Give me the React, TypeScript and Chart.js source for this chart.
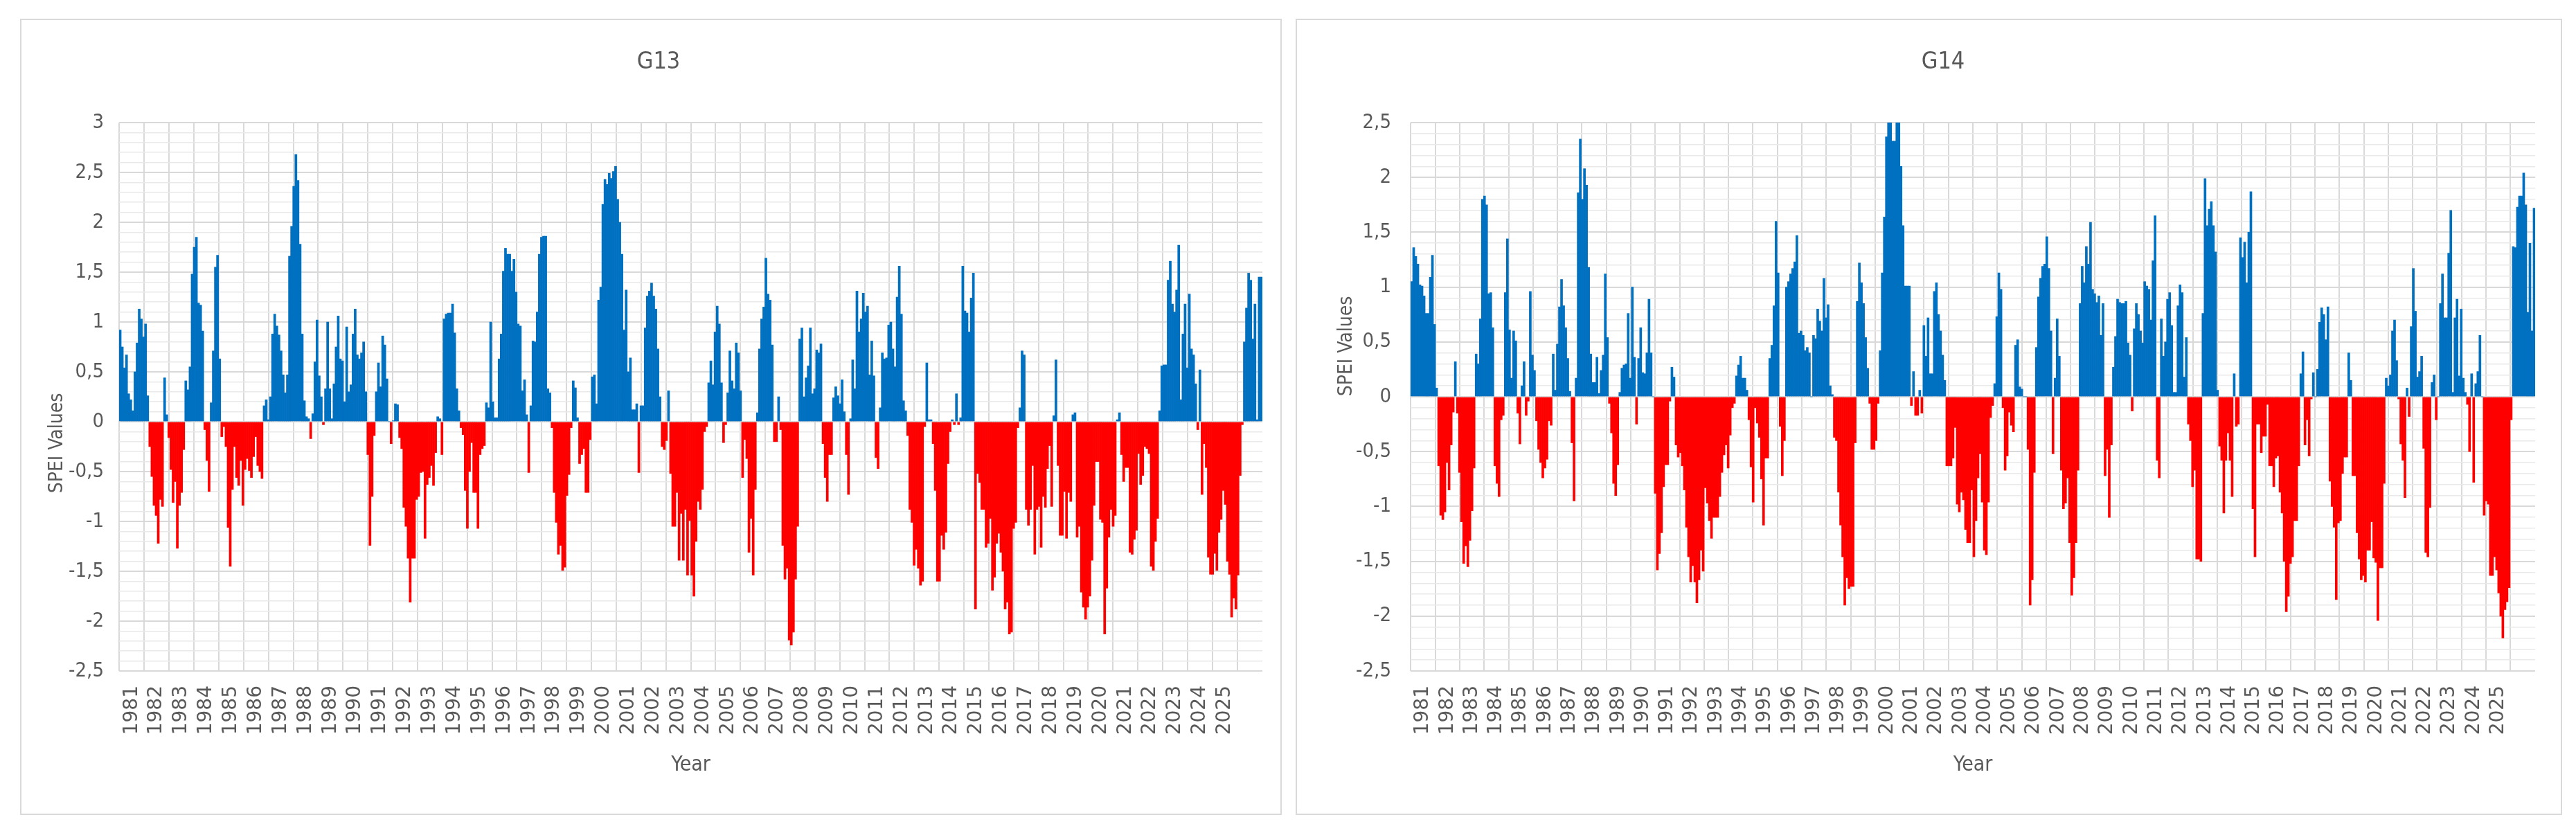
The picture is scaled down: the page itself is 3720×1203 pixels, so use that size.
import React, { useEffect, useRef } from 'react';
import { Chart, registerables } from 'chart.js';

Chart.register(...registerables);

// ---- categories -------------------------------------------------------------
const FIRST_YEAR = 1981;
const LAST_YEAR = 2025;
const MONTH_NAMES = ['Jan', 'Feb', 'Mar', 'Apr', 'May', 'Jun', 'Jul', 'Aug', 'Sep', 'Oct', 'Nov', 'Dec'];
const YEARS: number[] = [];
for (let y = FIRST_YEAR; y <= LAST_YEAR; y++) YEARS.push(y);
const MONTH_LABELS: string[] = YEARS.flatMap((y) => MONTH_NAMES.map((m) => `${m} ${y}`));

// ---- monthly SPEI series (one row per year, Jan..Dec) ------------------------
const G13_SPEI: number[] = [
  0.92, 0.75, 0.54, 0.67, 0.28, 0.22, 0.11, 0.50, 0.79, 1.13, 1.03, 0.85, // 1981
  0.98, 0.26, -0.25, -0.55, -0.84, -0.94, -1.22, -0.78, -0.85, 0.44, 0.07, -0.16, // 1982
  -0.48, -0.81, -0.60, -1.27, -0.84, -0.71, -0.28, 0.41, 0.32, 0.55, 1.48, 1.75, // 1983
  1.85, 1.19, 1.17, 0.91, -0.08, -0.39, -0.70, 0.19, 0.71, 1.55, 1.67, 0.63, // 1984
  -0.15, -0.05, -0.25, -1.06, -1.45, -0.68, -0.25, -0.56, -0.64, -0.39, -0.84, -0.48, // 1985
  -0.37, -0.49, -0.56, -0.35, -0.15, -0.44, -0.50, -0.57, 0.16, 0.22, 0.02, 0.25, // 1986
  0.88, 1.08, 0.96, 0.87, 0.71, 0.47, 0.29, 0.47, 1.66, 1.96, 2.36, 2.68, // 1987
  2.42, 1.78, 0.88, 0.21, 0.05, 0.03, -0.17, 0.08, 0.60, 1.02, 0.46, 0.25, // 1988
  -0.03, 0.33, 1.00, 0.33, 0.03, 0.38, 0.75, 1.06, 0.63, 0.61, 0.20, 0.95, // 1989
  0.30, 0.37, 0.88, 1.13, 0.67, 0.63, 0.69, 0.80, 0.30, -0.33, -1.24, -0.75, // 1990
  -0.14, 0.30, 0.59, 0.35, 0.86, 0.77, 0.43, 0.00, -0.22, 0.01, 0.18, 0.17, // 1991
  -0.16, -0.27, -0.86, -1.05, -1.37, -1.81, -1.37, -1.37, -0.78, -0.75, -0.51, -0.50, // 1992
  -1.17, -0.63, -0.56, -0.44, -0.64, -0.31, 0.05, 0.03, -0.33, 1.03, 1.08, 1.09, // 1993
  1.09, 1.18, 0.89, 0.33, 0.11, -0.06, -0.13, -0.69, -1.07, -0.50, -0.21, -0.71, // 1994
  -0.71, -1.07, -0.33, -0.27, -0.24, 0.19, 0.14, 1.00, 0.20, 0.04, 0.04, 0.63, // 1995
  0.88, 1.51, 1.74, 1.68, 1.68, 1.51, 1.63, 1.30, 0.98, 0.96, 0.31, 0.42, // 1996
  0.07, -0.51, 0.16, 0.81, 0.80, 1.10, 1.68, 1.85, 1.86, 1.86, 0.33, 0.29, // 1997
  -0.06, -0.71, -1.01, -1.33, -1.24, -1.49, -1.46, -0.74, -0.53, -0.06, 0.41, 0.34, // 1998
  0.04, -0.42, -0.33, -0.27, -0.71, -0.71, -0.18, 0.45, 0.47, 0.18, 1.22, 1.35, // 1999
  2.18, 2.43, 2.38, 2.49, 2.44, 2.51, 2.56, 2.23, 2.00, 1.68, 0.92, 1.32, // 2000
  0.50, 0.64, 0.12, 0.12, 0.18, -0.51, 0.16, 0.16, 0.94, 1.26, 1.31, 1.39, // 2001
  1.26, 1.13, 0.73, 0.25, -0.25, -0.28, -0.19, 0.31, -0.52, -1.05, -1.05, -0.71, // 2002
  -1.39, -0.92, -1.39, -0.88, -1.54, -0.99, -1.54, -1.75, -1.20, -0.80, -0.88, -0.68, // 2003
  -0.10, -0.05, 0.39, 0.61, 0.37, 0.90, 1.16, 0.98, 0.39, -0.21, -0.03, 0.29, // 2004
  0.71, 0.41, 0.33, 0.79, 0.69, 0.31, -0.56, -0.18, -0.37, -1.31, -0.97, -1.54, // 2005
  -0.68, 0.09, 0.73, 1.03, 1.15, 1.64, 1.28, 1.22, 0.77, -0.20, -0.20, 0.25, // 2006
  -0.08, -1.24, -1.58, -1.47, -2.19, -2.24, -2.11, -1.58, -1.05, 0.83, 0.94, 0.25, // 2007
  0.44, 0.56, 0.94, 0.28, 0.33, 0.72, 0.69, 0.78, -0.22, -0.56, -0.80, -0.33, // 2008
  -0.33, 0.24, 0.35, 0.26, 0.18, 0.42, 0.10, -0.33, -0.73, 0.03, 0.62, 0.33, // 2009
  1.31, 0.90, 1.03, 1.29, 1.10, 1.16, 0.47, 0.81, 0.46, -0.36, -0.47, 0.14, // 2010
  0.69, 0.63, 0.64, 0.97, 1.00, 0.73, 0.55, 1.25, 1.56, 1.08, 0.21, 0.11, // 2011
  -0.14, -0.88, -1.01, -1.44, -1.28, -1.47, -1.64, -1.60, -0.05, 0.59, 0.02, 0.02, // 2012
  -0.22, -0.69, -1.60, -1.60, -1.14, -1.28, -1.11, -0.42, -0.10, 0.02, -0.03, 0.28, // 2013
  -0.03, 0.04, 1.56, 1.11, 1.09, 0.90, 1.24, 1.49, -1.88, -0.52, -0.61, -0.88, // 2014
  -0.88, -1.26, -1.22, -0.97, -1.69, -1.56, -1.22, -1.12, -1.31, -1.50, -1.88, -1.81, // 2015
  -2.13, -2.11, -1.07, -1.01, -0.06, 0.14, 0.71, 0.67, -0.88, -1.04, -0.88, -0.44, // 2016
  -1.33, -0.88, -0.85, -1.26, -0.75, -0.86, -0.47, -0.24, -0.85, 0.06, 0.62, -0.44, // 2017
  -1.14, -1.14, -0.70, -1.17, -0.71, -0.80, 0.07, 0.09, -1.16, -1.05, -1.71, -1.86, // 2018
  -1.98, -1.86, -1.75, -1.39, -0.84, -0.40, -0.40, -0.98, -1.01, -2.13, -1.67, -1.16, // 2019
  -0.88, -1.05, -0.94, 0.02, 0.09, -0.33, -0.60, -0.46, -0.46, -1.31, -1.33, -1.18, // 2020
  -1.09, -0.32, -0.63, -0.54, -0.25, -0.27, -0.32, -1.45, -1.49, -1.20, -0.97, 0.11, // 2021
  0.56, 0.57, 0.57, 1.42, 1.61, 1.18, 1.10, 1.32, 1.77, 0.22, 0.88, 1.18, // 2022
  0.54, 1.28, 0.73, 0.67, 0.38, -0.08, 0.52, -0.73, -0.22, -0.46, -1.36, -1.53, // 2023
  -1.53, -1.32, -1.49, -1.11, -0.98, -0.69, -0.83, -1.40, -1.53, -1.96, -1.77, -1.88, // 2024
  -1.54, -0.54, -0.03, 0.80, 1.14, 1.49, 1.42, 0.83, 1.18, 0.02, 1.45, 1.45, // 2025
];

const G14_SPEI: number[] = [
  1.05, 1.36, 1.28, 1.21, 1.02, 1.01, 0.92, 0.76, 0.76, 1.09, 1.29, 0.66, // 1981
  0.08, -0.63, -1.08, -1.12, -1.05, -0.60, -0.85, -0.44, -0.14, 0.32, -0.15, -0.69, // 1982
  -1.14, -1.52, -1.36, -1.55, -1.31, -1.04, -0.65, 0.39, 0.30, 0.71, 1.80, 1.83, // 1983
  1.75, 0.94, 0.95, 0.63, -0.63, -0.79, -0.91, -0.21, -0.17, 0.95, 1.44, 0.61, // 1984
  0.17, 0.60, 0.51, -0.15, -0.43, 0.10, 0.32, -0.17, -0.04, 0.96, 0.38, 0.24, // 1985
  -0.22, -0.48, -0.60, -0.74, -0.65, -0.57, -0.22, -0.26, 0.39, 0.06, 0.48, 0.82, // 1986
  1.07, 0.83, 0.63, 0.35, 0.05, -0.42, -0.95, 0.17, 1.86, 2.35, 1.80, 2.08, // 1987
  1.93, 1.18, 0.39, 0.13, 0.13, 0.36, 0.03, 0.24, 0.38, 1.12, 0.54, -0.06, // 1988
  -0.33, -0.79, -0.90, -0.62, 0.04, 0.26, 0.29, 0.30, 0.76, 0.17, 1.00, 0.36, // 1989
  -0.25, 0.35, 0.63, 0.22, 0.21, 0.40, 0.89, 0.40, 0.00, -0.88, -1.58, -1.43, // 1990
  -1.24, -0.82, -0.62, -0.62, -0.04, 0.27, 0.18, -0.44, -0.55, -0.51, -0.63, -0.85, // 1991
  -1.19, -1.46, -1.69, -1.54, -1.69, -1.88, -1.67, -1.40, -1.59, -0.83, -0.97, -1.13, // 1992
  -1.29, -1.10, -1.10, -1.10, -0.91, -0.69, -0.53, -0.44, -0.65, -0.35, -0.10, -0.06, // 1993
  0.19, 0.29, 0.37, 0.17, 0.17, 0.06, -0.21, -0.64, -0.96, -0.10, -0.24, -0.37, // 1994
  -0.75, -1.17, -0.56, -0.56, 0.35, 0.47, 0.83, 1.60, 1.13, -0.27, -0.72, -0.40, // 1995
  1.00, 1.05, 1.12, 1.17, 1.23, 1.47, 0.58, 0.60, 0.56, 0.42, 0.45, 0.40, // 1996
  0.00, 0.56, 0.53, 0.80, 0.69, 0.60, 1.08, 0.72, 0.84, 0.10, 0.02, -0.37, // 1997
  -0.40, -0.87, -1.17, -1.46, -1.90, -1.65, -1.75, -1.73, -1.73, -0.42, 0.87, 1.22, // 1998
  1.04, 0.85, 0.54, 0.26, -0.06, -0.48, -0.48, -0.40, -0.06, 0.42, 1.13, 1.64, // 1999
  2.37, 2.60, 2.65, 2.33, 2.33, 2.70, 2.55, 2.10, 1.56, 1.01, 1.01, 1.01, // 2000
  -0.08, 0.23, -0.17, -0.17, 0.06, -0.15, 0.65, 0.37, 0.72, 0.21, 0.21, 0.96, // 2001
  1.04, 0.75, 0.60, 0.38, 0.15, -0.63, -0.63, -0.63, -0.56, -0.28, -0.98, -1.05, // 2002
  -0.87, -0.94, -1.21, -1.33, -1.33, -0.85, -1.46, -1.13, -0.74, -0.52, -0.96, -1.40, // 2003
  -1.44, -0.96, -0.19, -0.08, 0.12, 0.73, 1.13, 0.98, -0.10, -0.67, -0.54, -0.14, // 2004
  -0.26, -0.32, 0.47, 0.52, 0.09, 0.07, 0.00, 0.00, -0.48, -1.90, -1.67, -0.69, // 2005
  0.45, 0.91, 1.08, 1.19, 1.21, 1.46, 1.17, 0.60, -0.52, 0.17, 0.71, 0.37, // 2006
  -0.67, -1.02, -0.97, -0.74, -1.33, -1.81, -1.65, -1.33, -0.67, 0.85, 1.19, 1.04, // 2007
  1.37, 1.21, 1.59, 0.98, 0.94, 0.86, 0.92, 0.56, 0.85, -0.72, -0.48, -1.10, // 2008
  -0.44, 0.27, 0.55, 0.89, 0.86, 0.85, 0.85, 0.87, 0.49, 0.38, -0.13, 0.62, // 2009
  0.85, 0.75, 0.60, 0.49, 1.05, 1.01, 0.98, 0.70, 1.24, 1.65, -0.58, -0.74, // 2010
  0.71, 0.37, 0.50, 0.89, 0.95, 0.65, 0.04, 0.04, 0.83, 1.02, 0.95, 0.18, // 2011
  0.54, -0.25, -0.40, -0.82, -0.67, -1.48, -1.48, -1.50, 0.76, 1.99, 1.56, 1.71, // 2012
  1.78, 1.56, 1.32, 0.06, -0.45, -0.58, -1.06, -0.58, -0.33, -0.58, -0.91, 0.21, // 2013
  -0.27, -0.25, 1.45, 1.27, 1.41, 1.04, 1.50, 1.87, -1.02, -1.46, -0.25, -0.25, // 2014
  -0.51, -0.36, -0.36, -0.07, -0.63, -0.63, -0.82, -0.56, -0.54, -0.87, -1.06, -1.50, // 2015
  -1.96, -1.82, -1.52, -1.46, -1.13, -1.13, -0.63, 0.21, 0.41, -0.44, -0.21, -0.54, // 2016
  -0.02, 0.22, 0.00, 0.25, 0.68, 0.81, 0.75, 0.52, 0.82, -0.77, -1.00, -1.19, // 2017
  -1.85, -1.15, -1.13, -0.70, -0.55, -0.55, 0.40, 0.15, -0.72, -0.72, -1.24, -1.48, // 2018
  -1.67, -1.63, -1.69, -1.40, -1.40, -1.14, -1.47, -1.51, -2.04, -1.56, -1.56, -0.79, // 2019
  0.17, 0.10, 0.20, 0.60, 0.70, 0.33, -0.02, -0.43, -0.58, -0.92, 0.08, -0.18, // 2020
  0.64, 1.17, 0.78, 0.18, 0.23, 0.37, -0.47, -1.42, -1.46, -1.01, 0.13, 0.20, // 2021
  -0.21, 0.00, 0.85, 1.12, 0.72, 0.72, 1.31, 1.70, 0.04, 0.72, 0.89, 0.19, // 2022
  0.80, 0.17, 0.04, -0.07, -0.50, 0.21, -0.78, 0.12, 0.23, 0.56, 0.00, -1.08, // 2023
  -0.95, -0.98, -1.63, -1.63, -1.46, -1.58, -1.79, -2.00, -2.20, -1.94, -1.87, -1.74, // 2024
  -0.21, 1.37, 1.36, 1.73, 1.83, 1.83, 2.04, 1.75, 0.77, 1.40, 0.60, 1.72, // 2025
];

// ---- texts --------------------------------------------------------------------
const Y_TITLE = 'SPEI Values';
const X_TITLE = 'Year';

// ---- styles -------------------------------------------------------------------
const WET = '#0070C0';
const DRY = '#FF0000';
const TEXT = '#595959';
const GRID_MAJOR = '#d9d9d9';
const GRID_MINOR = '#e9e9e9';
const NARROW = '"Liberation Sans Narrow", "Arial Narrow", "DejaVu Sans Condensed", sans-serif';
const WIDE = '"DejaVu Sans", Arial, sans-serif';

type PanelSpec = {
  title: string;
  values: number[];
  yMin: number;
  yMax: number;
  box: { left: number; top: number; width: number; height: number };
  plot: { left: number; right: number; top: number; bottom: number };
  yTickPad: number;
  heading: { x: number; y: number };
  caption: { x: number; y: number };
};

const PANELS: PanelSpec[] = [
  {
    title: 'G13',
    values: G13_SPEI,
    yMin: -2.5,
    yMax: 3,
    box: { left: 29, top: 27, width: 1822, height: 1150 },
    plot: { left: 141, right: 26, top: 148, bottom: 206 },
    yTickPad: 22,
    heading: { x: 920, y: 61 },
    caption: { x: 52, y: 611 },
  },
  {
    title: 'G14',
    values: G14_SPEI,
    yMin: -2.5,
    yMax: 2.5,
    box: { left: 1871, top: 27, width: 1829, height: 1150 },
    plot: { left: 164, right: 37, top: 148, bottom: 206 },
    yTickPad: 28,
    heading: { x: 933, y: 61 },
    caption: { x: 72, y: 471 },
  },
];

const BORDER = 2;

// Draws the panel heading and the rotated y-axis caption at fixed canvas spots.
const panelTextPlugin = {
  id: 'panelText',
  afterDraw(chart: any, _args: any, opts: any) {
    if (!opts || !opts.items) return;
    const ctx = chart.ctx;
    for (const it of opts.items) {
      ctx.save();
      ctx.translate(it.x, it.y);
      if (it.rotate) ctx.rotate(it.rotate);
      ctx.font = `${it.size}px ${it.family}`;
      ctx.fillStyle = it.color;
      ctx.textAlign = 'center';
      ctx.textBaseline = 'middle';
      ctx.fillText(it.text, 0, 0);
      ctx.restore();
    }
  },
};

const isMajor = (v: number) => Math.round(v * 10) % 5 === 0;
const decimalComma = (v: number) => String(v).replace('.', ',');

function SpeiPanel({ spec }: { spec: PanelSpec }) {
  const ref = useRef<HTMLCanvasElement | null>(null);
  const cw = spec.box.width - 2 * BORDER;
  const ch = spec.box.height - 2 * BORDER;

  useEffect(() => {
    const canvas = ref.current;
    if (!canvas) return;
    const xTitleSize = 30;
    const xTitleCenterFromBottom = 70;

    const chart = new Chart(canvas, {
      type: 'bar',
      data: {
        labels: MONTH_LABELS,
        datasets: [
          {
            data: spec.values,
            backgroundColor: spec.values.map((v) => (v >= 0 ? WET : DRY)),
            borderWidth: 0,
            barPercentage: 1,
            categoryPercentage: 1,
            clip: 0,
          } as any,
        ],
      },
      options: {
        responsive: false,
        maintainAspectRatio: false,
        animation: false,
        devicePixelRatio: 1,
        layout: { padding: { left: 0, right: spec.plot.right, top: spec.plot.top, bottom: 0 } },
        plugins: {
          legend: { display: false },
          tooltip: { enabled: false },
          title: { display: false },
          panelText: {
            items: [
              {
                text: spec.title,
                x: spec.heading.x,
                y: spec.heading.y,
                size: 34,
                family: NARROW,
                color: TEXT,
              },
              {
                text: Y_TITLE,
                x: spec.caption.x,
                y: spec.caption.y,
                rotate: -Math.PI / 2,
                size: 28,
                family: NARROW,
                color: TEXT,
              },
            ],
          },
        } as any,
        scales: {
          x: { type: 'category', display: false, offset: true },
          years: {
            type: 'linear',
            position: 'bottom',
            min: 0,
            max: MONTH_LABELS.length,
            afterFit: (s: any) => {
              s.height = spec.plot.bottom;
            },
            afterBuildTicks: (s: any) => {
              s.ticks = YEARS.map((_, i) => ({ value: i * 12 }));
            },
            ticks: {
              autoSkip: false,
              minRotation: 90,
              maxRotation: 90,
              padding: 21,
              color: TEXT,
              font: { family: WIDE, size: 28 },
              callback: (v: any) => String(FIRST_YEAR + Math.round(Number(v) / 12)),
            },
            grid: { color: GRID_MAJOR, lineWidth: 2, drawTicks: false },
            border: { display: false },
            title: {
              display: true,
              text: X_TITLE,
              color: TEXT,
              font: { family: NARROW, size: xTitleSize },
              padding: { top: 0, bottom: xTitleCenterFromBottom - (xTitleSize * 1.2) / 2 },
            },
          },
          y: {
            type: 'linear',
            position: 'left',
            min: spec.yMin,
            max: spec.yMax,
            afterFit: (s: any) => {
              s.width = spec.plot.left;
            },
            afterBuildTicks: (s: any) => {
              const ticks = [];
              for (let k = Math.round(spec.yMin * 10); k <= Math.round(spec.yMax * 10); k++) {
                ticks.push({ value: k / 10 });
              }
              s.ticks = ticks;
            },
            ticks: {
              autoSkip: false,
              padding: spec.yTickPad,
              color: TEXT,
              font: { family: NARROW, size: 29 },
              callback: (v: any) => {
                const n = Number(v);
                return isMajor(n) ? decimalComma(Math.round(n * 10) / 10) : '';
              },
            },
            grid: {
              drawTicks: false,
              color: (c: any) => (c.tick && isMajor(c.tick.value) ? GRID_MAJOR : GRID_MINOR),
              lineWidth: (c: any) => (c.tick && isMajor(c.tick.value) ? 2 : 1.5),
            },
            border: { display: false },
          },
        } as any,
      },
      plugins: [panelTextPlugin as any],
    });
    return () => chart.destroy();
  }, [spec]);

  return (
    <div
      style={{
        position: 'absolute',
        left: spec.box.left,
        top: spec.box.top,
        width: spec.box.width,
        height: spec.box.height,
        boxSizing: 'border-box',
        border: `${BORDER}px solid #d9d9d9`,
        background: '#ffffff',
      }}
    >
      <canvas ref={ref} width={cw} height={ch} style={{ display: 'block', width: cw, height: ch }} />
    </div>
  );
}

export default function App() {
  return (
    <div
      style={{
        position: 'fixed',
        left: 0,
        top: 0,
        width: 3720,
        height: 1203,
        background: '#ffffff',
        overflow: 'hidden',
      }}
    >
      {PANELS.map((p) => (
        <SpeiPanel key={p.title} spec={p} />
      ))}
    </div>
  );
}
